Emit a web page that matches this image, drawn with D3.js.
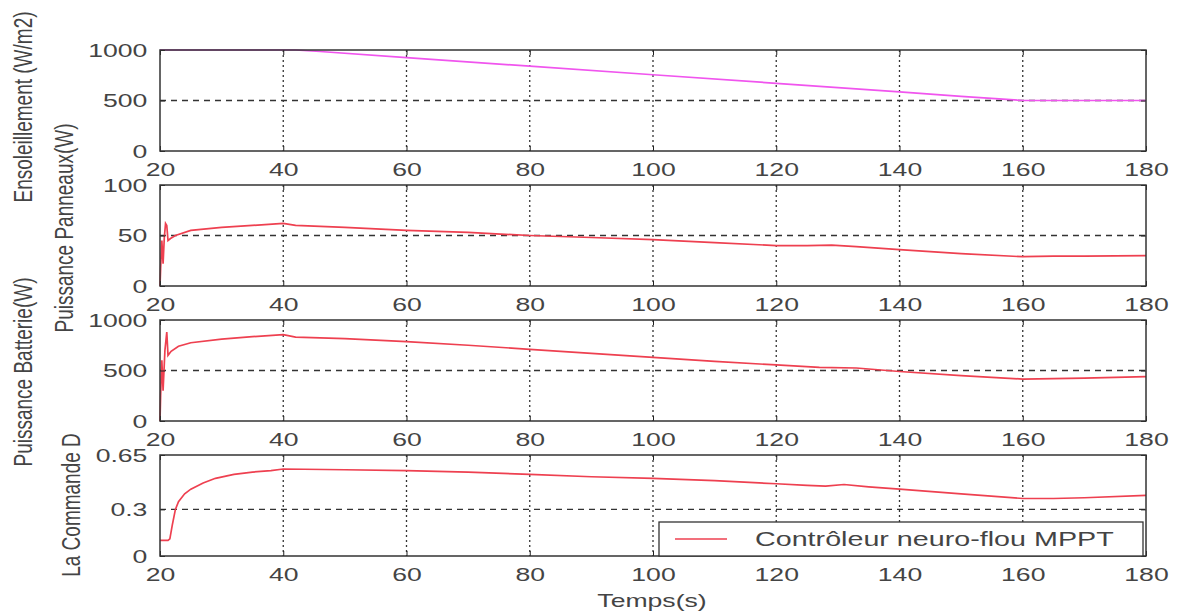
<!DOCTYPE html>
<html>
<head>
<meta charset="utf-8">
<script src="https://cdn.jsdelivr.net/npm/d3@7"></script>
<style>
body{margin:0;background:#fff;}
svg{display:block;}
</style>
</head>
<body>
<svg width="1177" height="615"></svg>
<script>
// temps (s) commun
const xTicks=[20,40,60,80,100,120,140,160,180];

// Ensoleillement (W/m2)
const tIns=[20,42,46,60,80,100,120,140,150,160,180];
const ensol=[1000,1000,985,925,840,755,670,585,540,500,500];

// Puissance panneaux (W)
const tPan=[20,20.1,20.3,20.5,20.7,20.9,21.1,21.3,21.7,22.5,25,30,35,40,42,50,60,70,80,90,100,110,120,125,129,133,140,150,160,165,170,180];
const pan=[0,17,45,22,48,62,60,45,47,50,55,58,60,62,60,58,55,53,50,48,46,43,40,40,40.5,39,36,32,29,29.5,29.5,30];

// Puissance batterie (W)
const tBat=[20,20.1,20.3,20.5,20.8,21.1,21.3,21.8,23,25,30,35,40,42,50,60,70,80,90,100,110,120,127,133,140,150,160,165,170,180];
const bat=[0,250,600,300,700,880,650,690,740,775,810,835,855,830,815,785,750,710,670,630,590,555,530,525,490,450,415,420,425,440];

// La commande D
const tCmd=[20,21.3,21.6,22,22.5,23,24,25,27,29,32,35,38,40,50,60,70,80,90,100,110,120,125,128,131,135,140,150,160,165,170,180];
const cmd=[0.10,0.10,0.11,0.2,0.3,0.35,0.4,0.43,0.47,0.5,0.525,0.54,0.55,0.56,0.555,0.55,0.54,0.525,0.51,0.50,0.485,0.465,0.455,0.45,0.46,0.445,0.43,0.40,0.37,0.37,0.375,0.39];

const yTicks1=[0,500,1000];
const yTicks2=[0,50,100];
const yTicks3=[0,500,1000];
const yTicks4=[0,0.3,0.65];

const labels=['Ensoleillement (W/m2)','Puissance Panneaux(W)','Puissance Batterie(W)','La Commande D'];
const legendText='Contrôleur neuro-flou MPPT';

const svg=d3.select('svg');
const FONT='"Liberation Sans",Arial,sans-serif';
const sx=1.4;   // image d'origine etiree en largeur
const red='#ee4050', pink='#f055ee', ink='#444';

const left=160,right=1146,top0=50,ph=101,gap=135;
const x=d3.scaleLinear().domain([20,180]).range([left,right]);

const panels=[
  {t:tIns,v:ensol,ticks:yTicks1,color:pink,label:labels[0],lx:32,ly:107},
  {t:tPan,v:pan,ticks:yTicks2,color:red,label:labels[1],lx:73,ly:228},
  {t:tBat,v:bat,ticks:yTicks3,color:red,label:labels[2],lx:32,ly:372},
  {t:tCmd,v:cmd,ticks:yTicks4,color:red,label:labels[3],lx:80,ly:505}
];

panels.forEach((p,i)=>{
  const top=top0+i*gap, bot=top+ph;
  const y=d3.scaleLinear().domain([0,d3.max(p.ticks)]).range([bot,top]);
  const g=svg.append('g');

  g.append('rect').attr('x',left).attr('y',top).attr('width',right-left).attr('height',ph)
    .attr('fill','#fff');

  // grille
  g.selectAll('.vg').data(xTicks.slice(1,-1)).enter().append('line')
    .attr('x1',d=>x(d)).attr('x2',d=>x(d)).attr('y1',top).attr('y2',bot)
    .attr('stroke','#333').attr('stroke-width',1.3).attr('stroke-dasharray','2,3');
  g.selectAll('.hg').data(p.ticks.slice(1,-1)).enter().append('line')
    .attr('x1',left).attr('x2',right).attr('y1',d=>y(d)).attr('y2',d=>y(d))
    .attr('stroke','#333').attr('stroke-width',1.3).attr('stroke-dasharray','6,5');

  // courbe
  const pts=p.t.map((t,k)=>[t,p.v[k]]);
  g.append('path').datum(pts)
    .attr('d',d3.line().x(d=>x(d[0])).y(d=>y(d[1])))
    .attr('fill','none').attr('stroke',p.color).attr('stroke-width',1.7);

  // axes
  const styleAx=a=>{
    a.attr('color','#222').attr('font-size',19).attr('font-family',FONT);
    a.select('.domain').remove();
    a.selectAll('text').attr('fill',ink).attr('transform',`scale(${sx},1)`);
  };
  g.append('g').attr('transform',`translate(0,${bot})`)
    .call(d3.axisBottom(x).tickValues(xTicks).tickSizeInner(-5).tickSizeOuter(0).tickPadding(12))
    .call(styleAx);
  g.append('g').attr('transform',`translate(0,${top})`)
    .call(d3.axisTop(x).tickValues(xTicks).tickSizeInner(-5).tickSizeOuter(0).tickFormat(''))
    .call(styleAx);
  g.append('g').attr('transform',`translate(${left},0)`)
    .call(d3.axisLeft(y).tickValues(p.ticks).tickSizeInner(-5).tickSizeOuter(0).tickPadding(9).tickFormat(d=>d))
    .call(styleAx);
  g.append('g').attr('transform',`translate(${right},0)`)
    .call(d3.axisRight(y).tickValues(p.ticks).tickSizeInner(-5).tickSizeOuter(0).tickFormat(''))
    .call(styleAx);

  g.append('rect').attr('x',left).attr('y',top).attr('width',right-left).attr('height',ph)
    .attr('fill','none').attr('stroke','#333').attr('stroke-width',1.5);

  // titre de l'axe y
  g.append('text')
    .attr('transform',`translate(${p.lx},${p.ly}) scale(${sx},1) rotate(-90)`)
    .attr('text-anchor','middle').attr('font-family',FONT).attr('font-size',19)
    .attr('fill',ink).text(p.label);

  if(i===3){
    const lg=g.append('g');
    lg.append('rect').attr('x',659).attr('y',522).attr('width',484).attr('height',34)
      .attr('fill','#fff').attr('stroke','#333').attr('stroke-width',1.3);
    lg.append('line').attr('x1',675).attr('x2',727).attr('y1',539).attr('y2',539)
      .attr('stroke',red).attr('stroke-width',1.7);
    lg.append('text').attr('transform',`translate(755,546) scale(${sx},1)`)
      .attr('font-family',FONT).attr('font-size',20.5).attr('fill',ink).text(legendText);
  }
});

svg.append('text')
  .attr('transform',`translate(652,607) scale(${sx},1)`)
  .attr('text-anchor','middle').attr('font-family',FONT).attr('font-size',19)
  .attr('fill',ink).text('Temps(s)');
</script>
</body>
</html>
